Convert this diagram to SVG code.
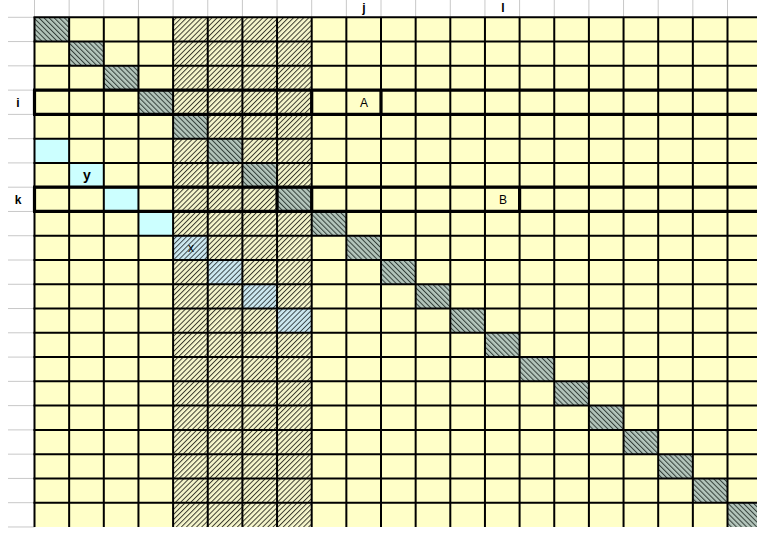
<svg xmlns="http://www.w3.org/2000/svg" width="757" height="533" viewBox="0 0 757 533">
<style>
.lab{font-family:"Liberation Sans",Arial,sans-serif;font-size:12px;fill:#000;text-anchor:middle}
.b{font-weight:bold}
.big{font-size:14px}
.gray{stroke:#c8c8c8;stroke-width:1;fill:none}
.grid{stroke:#000;stroke-width:2;fill:none}
.thick{stroke:#000;stroke-width:3.2;fill:none}
.diag{fill:url(#diagHatch)}
.cyan{fill:#ccffff}
.bh{fill:url(#blueHatch)}
</style>
<defs>
<pattern id="colHatch" patternUnits="userSpaceOnUse" width="3.6" height="3.6" patternTransform="rotate(45)">
<rect width="3.6" height="3.6" fill="#f6f6cc"/>
<line x1="0.5" y1="0" x2="0.5" y2="3.6" stroke="#333328" stroke-width="0.95"/>
</pattern>
<pattern id="diagHatch" patternUnits="userSpaceOnUse" width="3.6" height="3.6" patternTransform="rotate(-45)">
<rect width="3.6" height="3.6" fill="#b4c6bc"/>
<line x1="0.5" y1="0" x2="0.5" y2="3.6" stroke="#34403a" stroke-width="1.05"/>
</pattern>
<pattern id="blueHatch" patternUnits="userSpaceOnUse" width="3.6" height="3.6" patternTransform="rotate(45)">
<rect width="3.6" height="3.6" fill="#cce8f0"/>
<line x1="0.5" y1="0" x2="0.5" y2="3.6" stroke="#2e3a3e" stroke-width="0.9"/>
</pattern>
</defs>
<rect width="757" height="533" fill="#ffffff"/>
<g id="margins">
<path class="gray" d="M34.5 0V17.3M69.15 0V17.3M103.8 0V17.3M138.45 0V17.3M173.1 0V17.3M207.75 0V17.3M242.4 0V17.3M277.05 0V17.3M311.7 0V17.3M346.35 0V17.3M381 0V17.3M415.65 0V17.3M450.3 0V17.3M484.95 0V17.3M519.6 0V17.3M554.25 0V17.3M588.9 0V17.3M623.55 0V17.3M658.2 0V17.3M692.85 0V17.3M727.5 0V17.3"/>
<path class="gray" d="M8 17.3H34.5M8 41.57H34.5M8 65.84H34.5M8 90.11H34.5M8 114.38H34.5M8 138.65H34.5M8 162.92H34.5M8 187.19H34.5M8 211.46H34.5M8 235.73H34.5M8 260H34.5M8 284.27H34.5M8 308.54H34.5M8 332.81H34.5M8 357.08H34.5M8 381.35H34.5M8 405.62H34.5M8 429.89H34.5M8 454.16H34.5M8 478.43H34.5M8 502.7H34.5M8 526.97H34.5"/>
</g>
<g id="cells">
<rect x="34.5" y="17.3" width="722.5" height="509.67" fill="#ffffc8"/>
<rect x="173.1" y="17.3" width="138.6" height="509.67" fill="url(#colHatch)"/>
<rect class="cyan" x="34.5" y="138.65" width="34.65" height="24.27"/>
<rect class="cyan" x="69.15" y="162.92" width="34.65" height="24.27"/>
<rect class="cyan" x="103.8" y="187.19" width="34.65" height="24.27"/>
<rect class="cyan" x="138.45" y="211.46" width="34.65" height="24.27"/>
<rect class="bh" x="173.1" y="235.73" width="34.65" height="24.27"/>
<rect class="bh" x="207.75" y="260" width="34.65" height="24.27"/>
<rect class="bh" x="242.4" y="284.27" width="34.65" height="24.27"/>
<rect class="bh" x="277.05" y="308.54" width="34.65" height="24.27"/>
</g>
<g id="diagonal">
<rect class="diag" x="34.5" y="17.3" width="34.65" height="24.27"/>
<rect class="diag" x="69.15" y="41.57" width="34.65" height="24.27"/>
<rect class="diag" x="103.8" y="65.84" width="34.65" height="24.27"/>
<rect class="diag" x="138.45" y="90.11" width="34.65" height="24.27"/>
<rect class="diag" x="173.1" y="114.38" width="34.65" height="24.27"/>
<rect class="diag" x="207.75" y="138.65" width="34.65" height="24.27"/>
<rect class="diag" x="242.4" y="162.92" width="34.65" height="24.27"/>
<rect class="diag" x="277.05" y="187.19" width="34.65" height="24.27"/>
<rect class="diag" x="311.7" y="211.46" width="34.65" height="24.27"/>
<rect class="diag" x="346.35" y="235.73" width="34.65" height="24.27"/>
<rect class="diag" x="381" y="260" width="34.65" height="24.27"/>
<rect class="diag" x="415.65" y="284.27" width="34.65" height="24.27"/>
<rect class="diag" x="450.3" y="308.54" width="34.65" height="24.27"/>
<rect class="diag" x="484.95" y="332.81" width="34.65" height="24.27"/>
<rect class="diag" x="519.6" y="357.08" width="34.65" height="24.27"/>
<rect class="diag" x="554.25" y="381.35" width="34.65" height="24.27"/>
<rect class="diag" x="588.9" y="405.62" width="34.65" height="24.27"/>
<rect class="diag" x="623.55" y="429.89" width="34.65" height="24.27"/>
<rect class="diag" x="658.2" y="454.16" width="34.65" height="24.27"/>
<rect class="diag" x="692.85" y="478.43" width="34.65" height="24.27"/>
<rect class="diag" x="727.5" y="502.7" width="34.65" height="24.27"/>
</g>
<g id="gridlines">
<path class="grid" d="M34.5 17.3V527M69.15 17.3V527M103.8 17.3V527M138.45 17.3V527M173.1 17.3V527M207.75 17.3V527M242.4 17.3V527M277.05 17.3V527M311.7 17.3V527M346.35 17.3V527M381 17.3V527M415.65 17.3V527M450.3 17.3V527M484.95 17.3V527M519.6 17.3V527M554.25 17.3V527M588.9 17.3V527M623.55 17.3V527M658.2 17.3V527M692.85 17.3V527M727.5 17.3V527"/>
<path class="grid" d="M33.5 17.3H757M33.5 41.57H757M33.5 65.84H757M33.5 114.38H757M33.5 138.65H757M33.5 162.92H757M33.5 187.19H757M33.5 235.73H757M33.5 260H757M33.5 284.27H757M33.5 308.54H757M33.5 332.81H757M33.5 357.08H757M33.5 381.35H757M33.5 405.62H757M33.5 429.89H757M33.5 454.16H757M33.5 478.43H757M33.5 502.7H757"/>
<path class="thick" d="M33 90.11H757M33 114.38H757M33 187.19H757M33 211.46H757M34.5 90.11V114.38M311.7 90.11V114.38M381 90.11V114.38M34.5 187.19V211.46M277.05 187.19V211.46M311.7 187.19V211.46M519.6 187.19V211.46"/>
</g>
<g id="labels">
<text class="lab b" x="18" y="107">i</text>
<text class="lab b" x="18" y="204">k</text>
<text class="lab b" x="364" y="12">j</text>
<text class="lab b" x="503" y="12">l</text>
<text class="lab" x="364" y="107">A</text>
<text class="lab" x="503" y="204">B</text>
<text class="lab b big" x="87" y="180">y</text>
<text class="lab" x="191" y="252" fill="#333">x</text>
</g>
</svg>
